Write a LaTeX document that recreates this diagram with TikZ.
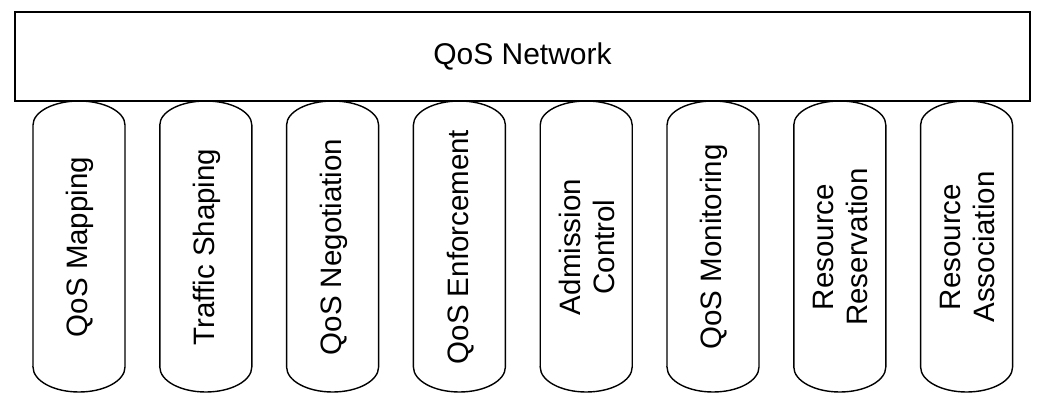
\documentclass[tikz,border=0pt]{standalone}
\usepackage{fontspec}
\setmainfont{Liberation Sans}
\begin{document}
\begin{tikzpicture}[x=1bp,y=1bp,line width=1.4bp,
  lbl/.style={rotate=90,align=center,font=\fontsize{29.5bp}{34bp}\selectfont,inner sep=0pt},
  title/.style={font=\fontsize{30bp}{34bp}\selectfont,inner sep=0pt}]
\useasboundingbox (0,0) rectangle (1054,413);
\foreach \i/\t in {0/{QoS Mapping},1/{Traffic Shaping},2/{QoS Negotiation},3/{QoS Enforcement},4/{Admission\\Control},5/{QoS Monitoring},6/{Resource\\Reservation},7/{Resource\\Association}}{
  \pgfmathsetmacro{\cx}{79+126.8*\i}
  \draw[fill=white] (\cx-46,46) -- (\cx-46,288)
     arc[start angle=180,end angle=0,x radius=46bp,y radius=24bp]
     -- (\cx+46,46)
     arc[start angle=0,end angle=-180,x radius=46bp,y radius=25bp] -- cycle;
  \node[lbl] (p\i) at (\cx+1,166) {\t};
}
\node[draw,minimum width=1015bp,minimum height=89bp,inner sep=0pt,fill=white] (net) at (522.5,356.5) {};
\node[title] (nettext) at (net.center) {QoS Network};
\end{tikzpicture}
\end{document}
